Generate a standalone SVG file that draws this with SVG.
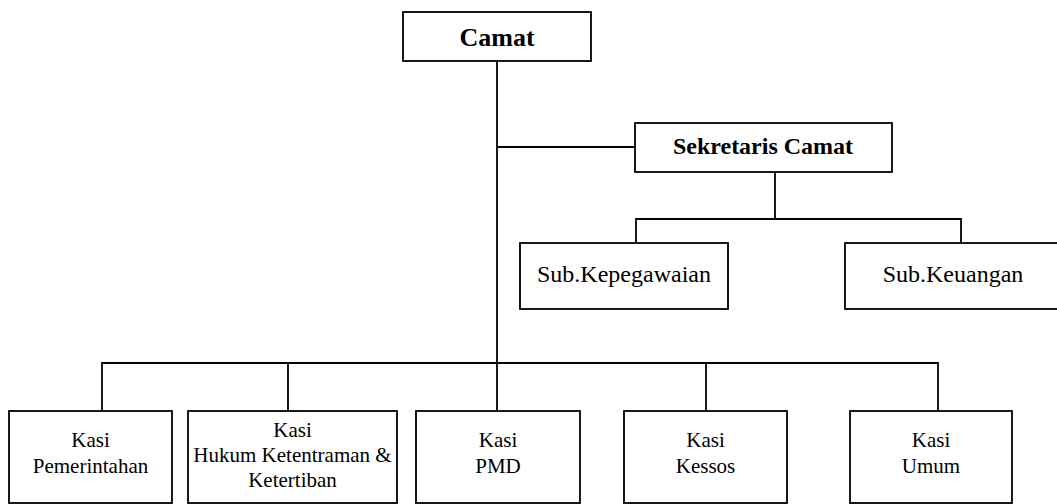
<svg xmlns="http://www.w3.org/2000/svg" width="1057" height="504" viewBox="0 0 1057 504">
<style>
.box{fill:#fff;stroke:#000;stroke-width:1.8}
.ln{fill:none;stroke:#000;stroke-width:1.8}
.b{font-family:"Liberation Serif","Times New Roman",serif;font-weight:bold;text-anchor:middle;fill:#000}
.t{font-family:"Liberation Serif","Times New Roman",serif;text-anchor:middle;fill:#000}
</style>
<rect width="1057" height="504" fill="#fff"/>
<g id="connectors" class="ln">
<path d="M497 61V363"/>
<path d="M497 147H636"/>
<path d="M775 172V219"/>
<path d="M636 243V219H961V243"/>
<path d="M102 411V363H938V411"/>
<path d="M288 363V411"/>
<path d="M497 363V411"/>
<path d="M706 363V411"/>
</g>
<g id="camat"><rect class="box" x="403" y="12" width="188" height="49"/><text class="b" x="497" y="46" font-size="26">Camat</text></g>
<g id="sekretaris"><rect class="box" x="635" y="123" width="257" height="49"/><text class="b" x="763" y="154" font-size="24">Sekretaris Camat</text></g>
<g id="kepegawaian"><rect class="box" x="520" y="243" width="208" height="66"/><text class="t" x="624" y="282" font-size="24">Sub.Kepegawaian</text></g>
<g id="keuangan"><rect class="box" x="845" y="243" width="216" height="66"/><text class="t" x="953" y="282" font-size="24">Sub.Keuangan</text></g>
<g id="pemerintahan"><rect class="box" x="9" y="411" width="163" height="92"/><text class="t" x="90.5" y="447" font-size="21">Kasi</text><text class="t" x="90.5" y="473" font-size="21">Pemerintahan</text></g>
<g id="hukum"><rect class="box" x="188" y="411" width="209" height="92"/><text class="t" x="292.5" y="437" font-size="21">Kasi</text><text class="t" x="292.5" y="462" font-size="21">Hukum Ketentraman &amp;</text><text class="t" x="292.5" y="487" font-size="21">Ketertiban</text></g>
<g id="pmd"><rect class="box" x="416" y="411" width="164" height="92"/><text class="t" x="498" y="447" font-size="21">Kasi</text><text class="t" x="498" y="473" font-size="21">PMD</text></g>
<g id="kessos"><rect class="box" x="624" y="411" width="163" height="92"/><text class="t" x="705.5" y="447" font-size="21">Kasi</text><text class="t" x="705.5" y="473" font-size="21">Kessos</text></g>
<g id="umum"><rect class="box" x="850" y="411" width="162" height="92"/><text class="t" x="931" y="447" font-size="21">Kasi</text><text class="t" x="931" y="473" font-size="21">Umum</text></g>
</svg>
